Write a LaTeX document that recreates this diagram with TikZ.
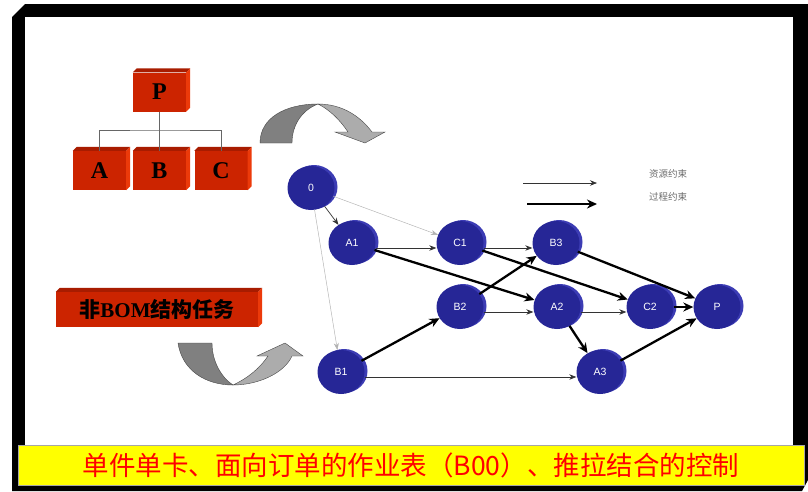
\documentclass[tikz,border=0pt]{standalone}
\usepackage{fontspec}
\setmainfont{Liberation Serif}
\newfontfamily\cjk{Noto Sans CJK SC}
\newfontfamily\lsans{Liberation Sans}
\usetikzlibrary{shapes.geometric,shadows,arrows.meta}
\definecolor{boxred}{RGB}{204,36,0}
\definecolor{boxtop}{RGB}{168,28,0}
\definecolor{boxside}{RGB}{236,58,10}
\definecolor{netblue}{RGB}{38,38,150}
\definecolor{netblue2}{RGB}{60,60,180}
\definecolor{arcdark}{RGB}{128,128,128}
\definecolor{arclight}{RGB}{172,172,172}
\definecolor{bannery}{RGB}{255,255,0}
\tikzset{
  redbox/.style={fill=boxred, inner sep=0pt, minimum width=53pt, minimum height=39pt,
     font=\bfseries\fontsize{24}{24}\selectfont},
  netnode/.style={ellipse, fill=netblue, minimum width=47pt, minimum height=44pt, inner sep=0pt,
     text=white, font=\lsans\fontsize{10.5}{10.5}\selectfont,
     copy shadow={shadow xshift=3pt, shadow yshift=1pt, fill=netblue2, draw=none}},
  treeline/.style={draw=gray!80!black, line width=0.8pt},
  resarrow/.style={draw=black!80, line width=0.7pt, -{Stealth[length=7pt,width=5.5pt]}},
  faintarrow/.style={draw=gray!60, line width=0.45pt, -{Stealth[length=7pt,width=5pt]}},
  procarrow/.style={draw=black, line width=2.3pt, -{Stealth[length=10pt,width=9pt]}},
  legendtext/.style={text=gray!85!black, font=\cjk\fontsize{9.5}{10}\selectfont, inner sep=0pt},
  arcshape/.style={draw=gray!55!black, line width=0.4pt},
}
\newcommand{\boxfaces}[1]{%
  \fill[boxtop] (#1.north west) -- ++(4,-4) -- ([shift={(4pt,4pt)}]#1.north east) -- (#1.north east) -- cycle;
  \fill[boxside] (#1.north east) -- ([shift={(4pt,4pt)}]#1.north east) -- ([shift={(4pt,4pt)}]#1.south east) -- (#1.south east) -- cycle;
}
\begin{document}
\begin{tikzpicture}[x=1pt,y=-1pt]
\useasboundingbox (0,0) rectangle (808,491);
\fill[white] (0,0) rectangle (808,491);
% frame
\fill[black] (12,17) -- (25,4) -- (808,4) -- (808,480) -- (802,491) -- (12,491) -- cycle;
\fill[white] (25,17) rectangle (793,445);

% BOM tree
\node[redbox] (P) at (159.5,92) {P};
\node[redbox] (A) at (99.5,170.5) {A};
\node[redbox] (B) at (159.5,170.5) {B};
\node[redbox] (C) at (221,170.5) {C};
\boxfaces{P}\boxfaces{A}\boxfaces{B}\boxfaces{C}
\coordinate (bus) at (159.5,130);
\draw[treeline] (P.south) -- (B.north);
\draw[treeline] (A.north) |- (bus) -| (C.north);

% non-BOM box
\node[redbox, minimum width=202pt, minimum height=35pt, font=\bfseries\fontsize{21}{21}\selectfont] (nb) at (157,309.5)
  {{\cjk\bfseries 非}BOM{\cjk\bfseries 结构任务}};
\boxfaces{nb}

% top curved arrow
\fill[arcdark, arcshape] (260,143) .. controls (260,118) and (285,104) .. (318,104)
   .. controls (302,110) and (292,125) .. (292,143) -- cycle;
\fill[arclight, arcshape] (318,104) .. controls (342,104) and (360,116) .. (372,132)
   -- (385,132) -- (365,143) -- (335,132) -- (348,132)
   .. controls (340,120) and (330,110) .. (318,104) -- cycle;

% bottom curved arrow
\fill[arcdark, arcshape] (178,343) .. controls (182,370) and (205,385) .. (233,385)
   .. controls (222,378) and (212,362) .. (212,343) -- cycle;
\fill[arclight, arcshape] (233,385) .. controls (260,385) and (285,372) .. (292,356)
   -- (303,356) -- (285,343) -- (257,356) -- (268,356)
   .. controls (260,368) and (248,378) .. (233,385) -- cycle;

% network
\node[netnode] (n0) at (311,188) {0};
\node[netnode] (A1) at (352,243) {A1};
\node[netnode] (C1) at (460,243) {C1};
\node[netnode] (B3) at (556,243) {B3};
\node[netnode] (B2) at (460,307) {B2};
\node[netnode] (A2) at (557,307) {A2};
\node[netnode] (C2) at (650,307) {C2};
\node[netnode] (Pn) at (717,307) {P};
\node[netnode] (B1) at (341,372) {B1};
\node[netnode] (A3) at (600,372) {A3};

\draw[resarrow] (n0) -- (A1);
\draw[faintarrow] (n0) -- (C1);
\draw[faintarrow] (n0) -- (B1);
\draw[resarrow] ([yshift=-5pt]A1.east) -- ([yshift=-5pt]C1.west);
\draw[resarrow] ([yshift=-5pt]C1.east) -- ([yshift=-5pt]B3.west);
\draw[resarrow] ([yshift=-5pt]B2.east) -- ([yshift=-5pt]A2.west);
\draw[resarrow] ([yshift=-5pt]A2.east) -- ([yshift=-5pt]C2.west);
\draw[resarrow] ([yshift=-5pt]B1.east) -- ([yshift=-5pt]A3.west);

\draw[procarrow] (A1) -- (A2);
\draw[procarrow] (C1) -- (C2);
\draw[procarrow] (B2) -- (B3);
\draw[procarrow] (B1) -- (B2);
\draw[procarrow] (B3) -- (Pn);
\draw[procarrow] (A2) -- (A3);
\draw[procarrow] (A3) -- (Pn);
\draw[procarrow] (C2) -- (Pn);

% legend
\coordinate (l1s) at (523,183);
\coordinate (l1e) at (597,183);
\coordinate (l2s) at (527,204);
\coordinate (l2e) at (597,204);
\draw[resarrow] (l1s) -- (l1e);
\draw[procarrow] (l2s) -- (l2e);
\node[legendtext] (lt1) at (668,174) {资源约束};
\node[legendtext] (lt2) at (668,197) {过程约束};

% banner
\node[fill=bannery, draw=gray!70, line width=0.6pt, minimum width=786pt, minimum height=40pt, inner sep=0pt,
      text=red, font=\cjk\fontsize{26.5}{26.5}\selectfont] (banner) at (411,465)
  {单件单卡、面向订单的作业表（B00）、推拉结合的控制};
\end{tikzpicture}
\end{document}
